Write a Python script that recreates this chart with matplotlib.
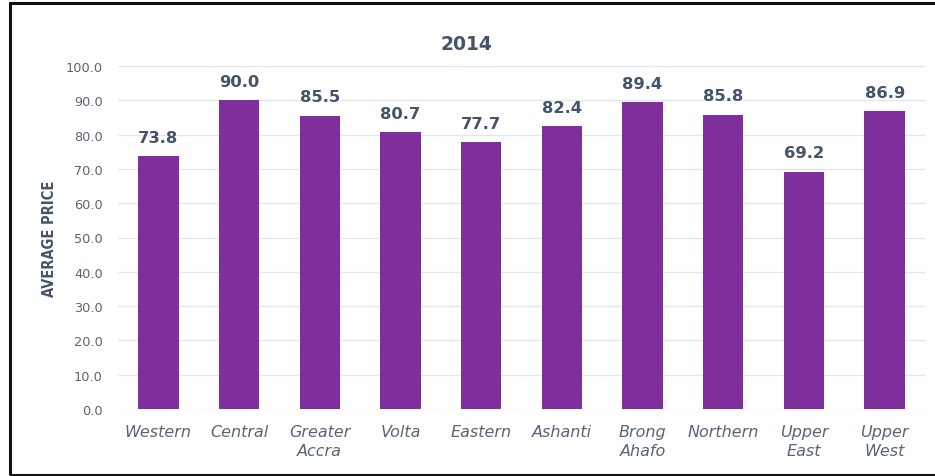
import matplotlib.pyplot as plt
from matplotlib.patches import Rectangle

regions = ['Western', 'Central', 'Greater\nAccra', 'Volta', 'Eastern', 'Ashanti',
           'Brong\nAhafo', 'Northern', 'Upper\nEast', 'Upper\nWest']
prices = [73.8, 90.0, 85.5, 80.7, 77.7, 82.4, 89.4, 85.8, 69.2, 86.9]
yticks = [0, 10, 20, 30, 40, 50, 60, 70, 80, 90, 100]

bar_color = '#7F2F9B'
text_color = '#44546A'
tick_color = '#586477'

plt.rcParams['font.family'] = ['DejaVu Sans']

fig = plt.figure(figsize=(9.35, 4.77), dpi=100)
ax = fig.add_axes([118 / 935, 67 / 477, 807 / 935, 343 / 477])

x = range(len(regions))
ax.bar(x, prices, width=0.5, color=bar_color, zorder=3)
for i, v in zip(x, prices):
    ax.text(i, v + 3.3, f'{v:.1f}', ha='center', va='bottom', fontsize=11.8,
            fontweight='bold', color=text_color)

ax.set_xlim(-0.5, len(regions) - 0.5)
ax.set_ylim(0, 100)
ax.set_yticks(yticks)
ax.set_yticklabels([f'{t:.1f}' for t in yticks], fontsize=9.3, color=tick_color)
ax.set_xticks(list(x))
ax.set_xticklabels(regions, fontsize=11.5, style='italic', color=tick_color,
                   linespacing=1.3, va='top')
ax.tick_params(axis='both', length=0)
ax.tick_params(axis='x', pad=11)
ax.tick_params(axis='y', pad=11)
ax.grid(axis='y', color='#E4E6EE', linewidth=1, zorder=0)
for s in ax.spines.values():
    s.set_visible(False)

fig.text(466 / 935, 1 - 44 / 477, '2014', ha='center', va='center',
         fontsize=13.5, fontweight='bold', color=text_color)
fig.text(49 / 935, 1 - 239 / 477, 'AVERAGE PRICE', rotation=90, ha='center',
         va='center', fontsize=10.5, fontweight='bold', color=text_color,
         fontstretch='condensed')

fig.patches.append(Rectangle((10 / 935, 1 / 477), 0.999, 472 / 477,
                             transform=fig.transFigure, fill=False,
                             edgecolor='#111111', linewidth=2.2))

fig.savefig('out.png', dpi=100)
